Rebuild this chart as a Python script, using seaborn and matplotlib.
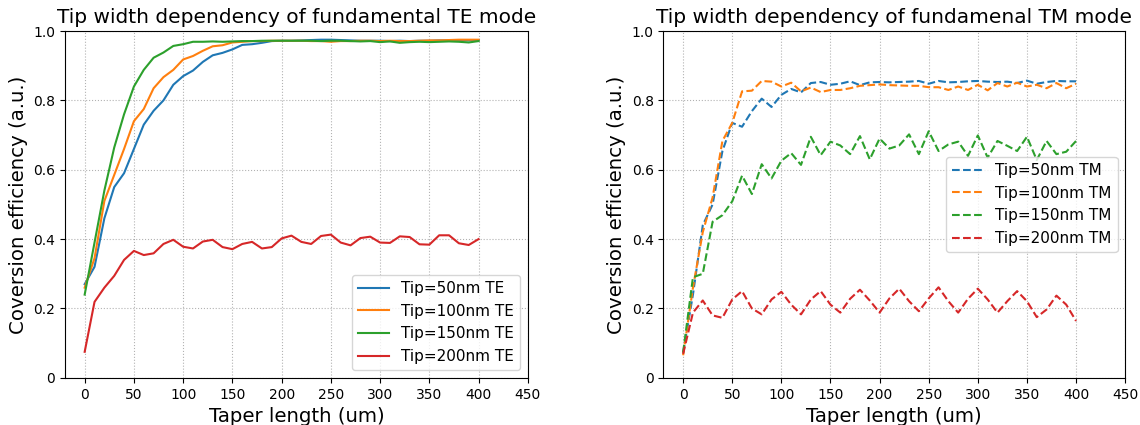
import matplotlib
matplotlib.use('Agg')

import matplotlib.pyplot as plt
import seaborn as sns
import pandas as pd
import numpy as np

taper = list(range(0, 410, 10))

te_50 = [0.27, 0.32, 0.46, 0.55, 0.59, 0.66, 0.73, 0.77, 0.80, 0.845,
         0.87, 0.886, 0.911, 0.93, 0.937, 0.947, 0.96, 0.962, 0.966, 0.971,
         0.972, 0.972, 0.973, 0.974, 0.975, 0.975, 0.974, 0.973, 0.972, 0.972,
         0.972, 0.971, 0.972, 0.971, 0.972, 0.972, 0.973, 0.973, 0.973, 0.973, 0.974]
te_100 = [0.26, 0.345, 0.51, 0.585, 0.66, 0.74, 0.775, 0.835, 0.867, 0.888,
          0.918, 0.928, 0.943, 0.956, 0.959, 0.967, 0.969, 0.971, 0.971, 0.972,
          0.972, 0.972, 0.972, 0.971, 0.971, 0.969, 0.971, 0.971, 0.972, 0.972,
          0.971, 0.972, 0.971, 0.971, 0.972, 0.973, 0.973, 0.974, 0.975, 0.975, 0.975]
te_150 = [0.24, 0.39, 0.54, 0.664, 0.76, 0.84, 0.888, 0.923, 0.938, 0.957,
          0.962, 0.969, 0.969, 0.970, 0.969, 0.970, 0.971, 0.971, 0.972, 0.972,
          0.972, 0.972, 0.972, 0.972, 0.971, 0.972, 0.972, 0.971, 0.970, 0.971,
          0.968, 0.970, 0.966, 0.968, 0.969, 0.968, 0.969, 0.970, 0.969, 0.967, 0.971]
te_200 = [0.075, 0.219, 0.26, 0.294, 0.34, 0.366, 0.354, 0.359, 0.386, 0.398,
          0.378, 0.373, 0.393, 0.398, 0.377, 0.371, 0.386, 0.392, 0.373, 0.377,
          0.402, 0.41, 0.392, 0.386, 0.409, 0.413, 0.39, 0.382, 0.403, 0.407,
          0.39, 0.389, 0.408, 0.406, 0.385, 0.384, 0.411, 0.411, 0.388, 0.383, 0.40]

tm_50 = [0.073, 0.24, 0.44, 0.50, 0.654, 0.735, 0.724, 0.769, 0.805, 0.781,
         0.816, 0.833, 0.823, 0.85, 0.853, 0.845, 0.848, 0.855, 0.844, 0.852,
         0.853, 0.852, 0.853, 0.854, 0.856, 0.848, 0.856, 0.852, 0.853, 0.855,
         0.856, 0.854, 0.853, 0.854, 0.85, 0.857, 0.848, 0.853, 0.856, 0.855, 0.855]
tm_100 = [0.065, 0.26, 0.42, 0.52, 0.683, 0.735, 0.826, 0.828, 0.856, 0.854,
          0.84, 0.851, 0.826, 0.837, 0.824, 0.83, 0.83, 0.835, 0.842, 0.844,
          0.846, 0.844, 0.843, 0.842, 0.842, 0.838, 0.838, 0.83, 0.84, 0.83,
          0.845, 0.829, 0.85, 0.84, 0.851, 0.84, 0.845, 0.835, 0.85, 0.835, 0.848]
tm_150 = [0.073, 0.29, 0.30, 0.45, 0.469, 0.509, 0.583, 0.53, 0.616, 0.575,
          0.626, 0.648, 0.614, 0.695, 0.642, 0.681, 0.67, 0.645, 0.697, 0.63,
          0.69, 0.661, 0.67, 0.702, 0.645, 0.711, 0.654, 0.673, 0.681, 0.64,
          0.699, 0.635, 0.683, 0.669, 0.654, 0.695, 0.628, 0.683, 0.645, 0.652, 0.683]
tm_200 = [0.069, 0.188, 0.223, 0.18, 0.173, 0.226, 0.25, 0.2, 0.183, 0.226,
          0.248, 0.211, 0.183, 0.226, 0.25, 0.211, 0.188, 0.228, 0.254, 0.223,
          0.188, 0.229, 0.257, 0.221, 0.192, 0.229, 0.261, 0.221, 0.188, 0.228,
          0.257, 0.226, 0.188, 0.221, 0.25, 0.221, 0.175, 0.197, 0.237, 0.211, 0.164]

te_labels = ['Tip=50nm TE', 'Tip=100nm TE', 'Tip=150nm TE', 'Tip=200nm TE']
tm_labels = ['Tip=50nm TM', 'Tip=100nm TM', 'Tip=150nm TM', 'Tip=200nm TM']
yticks = [0, 0.2, 0.4, 0.6, 0.8, 1.0]
ytick_labels = ['0', '0.2', '0.4', '0.6', '0.8', '1.0']


def makeFrame(series, labels):
    rows = []
    for vals, lab in zip(series, labels):
        for x, y in zip(taper, vals):
            rows.append({'taper': x, 'eff': y, 'tip': lab})
    return pd.DataFrame(rows)


def styleAxes(ax, title):
    ax.set_xlim(-20, 450)
    ax.set_ylim(0, 1)
    ax.set_xticks(range(0, 500, 50))
    ax.set_yticks(yticks)
    ax.set_yticklabels(ytick_labels)
    ax.tick_params(labelsize=10)
    ax.grid(True, linestyle=':', color='gray', alpha=0.6)
    ax.set_title(title, fontsize=14.5)
    ax.set_xlabel('Taper length (um)', fontsize=14.2)
    ax.set_ylabel('Coversion efficiency (a.u.)', fontsize=14.2)


def main():
    palette = sns.color_palette('tab10', 4)
    fig = plt.figure(figsize=(11.4, 4.25), dpi=100)
    ax1 = fig.add_axes([0.057, 0.111, 0.406, 0.816])
    ax2 = fig.add_axes([0.582, 0.111, 0.405, 0.816])

    te = makeFrame([te_50, te_100, te_150, te_200], te_labels)
    sns.lineplot(data=te, x='taper', y='eff', hue='tip', palette=palette, ax=ax1, linewidth=1.5)
    styleAxes(ax1, 'Tip width dependency of fundamental TE mode')
    ax1.legend(loc='lower right', fontsize=11)

    tm = makeFrame([tm_50, tm_100, tm_150, tm_200], tm_labels)
    sns.lineplot(data=tm, x='taper', y='eff', hue='tip', palette=palette, ax=ax2,
                 linewidth=1.5, linestyle='--')
    styleAxes(ax2, 'Tip width dependency of fundamenal TM mode')
    handles, labels = ax2.get_legend_handles_labels()
    for h in handles:
        h.set_linestyle('--')
    ax2.legend(handles, labels, loc='center right', fontsize=11)

    fig.savefig('out.png', dpi=100)


if __name__ == "__main__":
    main()
